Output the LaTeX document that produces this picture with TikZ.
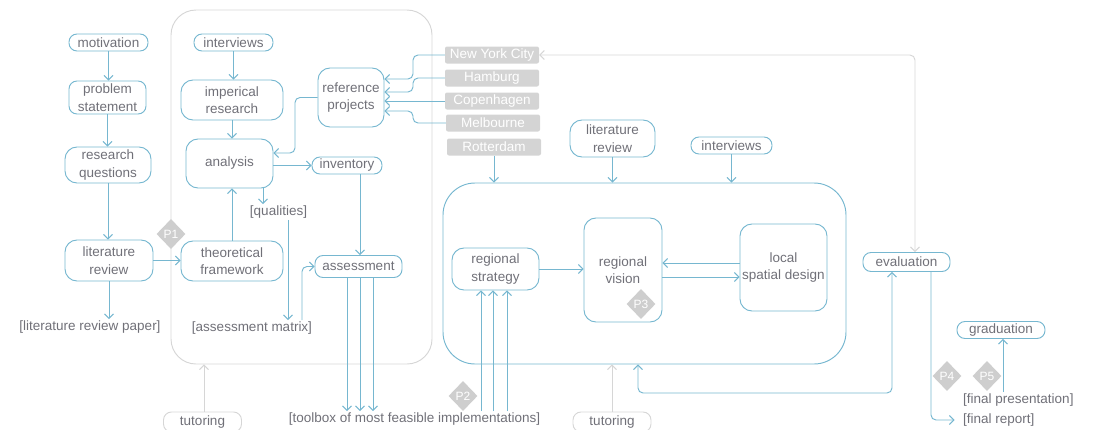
\documentclass[tikz,border=0pt]{standalone}
\usepackage{fontspec}
\setmainfont{Liberation Sans}
\usetikzlibrary{arrows.meta,shapes.geometric}
\definecolor{bl}{RGB}{118,183,208}
\definecolor{tx}{RGB}{112,112,120}
\definecolor{gl}{RGB}{214,214,214}
\definecolor{cf}{RGB}{212,212,212}
\definecolor{df}{RGB}{206,206,206}
\begin{document}
\begin{tikzpicture}[x=1pt,y=-1pt,
  font=\fontsize{13.5}{17.5}\selectfont,
  >={Straight Barb[length=4.5pt,width=9pt]},
  box/.style={draw=bl, line width=0.95pt, rounded corners=8pt, text=tx, align=center, inner sep=0pt},
  bigbox/.style={box, rounded corners=12pt},
  lbl/.style={text=tx, inner sep=1.5pt},
  city/.style={fill=cf, rounded corners=2pt, text=white, minimum width=94, minimum height=17, inner sep=0pt},
  pdia/.style={diamond, fill=df, text=white, minimum width=29, minimum height=30, inner sep=0pt, font=\fontsize{12}{12}\selectfont},
  arr/.style={->, draw=bl, line width=0.95pt},
  garr/.style={draw=gl, line width=0.95pt},
  rc/.style={rounded corners=5pt}
]
\useasboundingbox (0,0) rectangle (1093,429);
% containers
\node[draw=gl, line width=0.95pt, rounded corners=25pt, minimum width=261, minimum height=354, inner sep=0pt] (greybox) at (301.5,187) {};
\node[draw=bl, line width=0.95pt, rounded corners=32pt, minimum width=403, minimum height=181, inner sep=0pt] (bluebox) at (644.5,273.5) {};
% left column
\node[box, minimum width=79, minimum height=17] (motivation) at (108.5,42.5) {motivation};
\node[box, minimum width=77, minimum height=33] (problem) at (107.5,97.5) {problem\\statement};
\node[bigbox, minimum width=86, minimum height=36] (research) at (108,165) {research\\questions};
\node[bigbox, minimum width=88, minimum height=41] (litrev) at (109,260.5) {literature\\review};
\node[lbl] (litpaper) at (90,327) {[literature review paper]};
% grey container content
\node[box, minimum width=79, minimum height=17] (interviews1) at (233.5,42.5) {interviews};
\node[bigbox, minimum width=102, minimum height=40] (imperical) at (232,100) {imperical\\research};
\node[bigbox, minimum width=87, minimum height=49] (analysis) at (229.5,163.5) {analysis};
\node[bigbox, minimum width=102, minimum height=40] (theo) at (232,261) {theoretical\\framework};
\node[box, minimum width=70, minimum height=17] (inventory) at (347,165.5) {inventory};
\node[lbl] (qualities) at (278.5,212) {[qualities]};
\node[lbl] (assessmatrix) at (252,328) {[assessment matrix]};
\node[box, minimum width=87, minimum height=22] (assessment) at (358.5,266.5) {assessment};
\node[bigbox, minimum width=66, minimum height=59] (reference) at (351,97.5) {reference\\projects};
% cities
\node[city] (nyc) at (492,55) {New York City};
\node[city] (hamburg) at (492,78) {Hamburg};
\node[city] (copenhagen) at (492,101) {Copenhagen};
\node[city] (melbourne) at (493,123) {Melbourne};
\node[city] (rotterdam) at (494,147) {Rotterdam};
\node[lbl] (toolbox) at (414.5,419) {[toolbox of most feasible implementations]};
% blue container content
\node[bigbox, minimum width=85, minimum height=37] (litrev2) at (612.5,138.5) {literature\\review};
\node[box, minimum width=81, minimum height=17] (interviews2) at (731.5,145.5) {interviews};
\node[bigbox, minimum width=87, minimum height=42] (strategy) at (495.5,269) {regional\\strategy};
\node[bigbox, minimum width=78, minimum height=104] (vision) at (623,270) {regional\\vision};
\node[bigbox, minimum width=87, minimum height=87] (local) at (783.5,267.5) {local\\spatial design};
% right part
\node[box, minimum width=87, minimum height=19] (evaluation) at (906.5,262) {evaluation};
\node[box, minimum width=88, minimum height=17] (graduation) at (1001,330) {graduation};
\node[lbl, anchor=west] (finalpres) at (961.5,400) {[final presentation]};
\node[lbl, anchor=west] (finalreport) at (961.5,420) {[final report]};
% tutoring
\node[draw=gl, line width=0.95pt, rounded corners=8pt, text=tx, minimum width=78, minimum height=20, inner sep=0pt] (tutoring1) at (202.5,422) {tutoring};
\node[draw=gl, line width=0.95pt, rounded corners=8pt, text=tx, minimum width=78, minimum height=20, inner sep=0pt] (tutoring2) at (612,422) {tutoring};
% helper coordinates
\coordinate (xq) at (263,0);
\coordinate (xm) at (288,0);
\coordinate (xam) at (302,0);
\coordinate (xinv) at (360,0);
\coordinate (xt1) at (347,0);
\coordinate (xt2) at (360,0);
\coordinate (xt3) at (373,0);
\coordinate (xs1) at (481,0);
\coordinate (xs2) at (493,0);
\coordinate (xs3) at (507,0);
\coordinate (xref) at (295,0);
\coordinate (ya) at (0,153);
\coordinate (xcity) at (413,0);
\coordinate (yr1) at (0,79);
\coordinate (yr2) at (0,92);
\coordinate (yr4) at (0,111);
\coordinate (yl1) at (0,263);
\coordinate (yl2) at (0,277);
\coordinate (yb) at (0,393);
\coordinate (xe1) at (638,0);
\coordinate (xe2) at (892,0);
\coordinate (xg) at (915,0);
\coordinate (xf) at (931,0);
\coordinate (xgr) at (1003,0);
\coordinate (xtu) at (204,0);
% connectors left
\draw[arr] (motivation.south) -- (motivation.south |- problem.north);
\draw[arr] (problem.south) -- (problem.south |- research.north);
\draw[arr] (research.south) -- (research.south |- litrev.north);
\draw[arr] (litrev.south) -- (litrev.south |- litpaper.north);
\draw[arr] (litrev.east) -- (litrev.east -| theo.west);
\draw[arr] (interviews1.south) -- (interviews1.south |- imperical.north);
\draw[arr] (imperical.south) -- (imperical.south |- analysis.north);
\draw[arr] (theo.north) -- (theo.north |- analysis.south);
\draw[arr] (analysis.east |- inventory.west) -- (inventory.west);
\draw[arr] (analysis.south -| xq) -- (qualities.north -| xq);
\draw[arr] (qualities.south -| xm) -- (assessmatrix.north -| xm);
\draw[arr, rc] (assessmatrix.north -| xam) |- (assessment.west);
\draw[arr] (inventory.south -| xinv) -- (assessment.north -| xinv);
\foreach \c in {xt1,xt2,xt3} \draw[arr] (assessment.south -| \c) -- (toolbox.north -| \c);
\foreach \c in {xs1,xs2,xs3} \draw[arr] (toolbox.north -| \c) -- (strategy.south -| \c);
\draw[arr, rc] (reference.west) -| (xref |- ya) -- (analysis.east |- ya);
% cities
\draw[arr, rc] (nyc.west) -| (xcity |- yr1) -- (reference.east |- yr1);
\draw[arr, rc] (hamburg.west) -| (xcity |- yr2) -- (reference.east |- yr2);
\draw[arr] (copenhagen.west) -- (reference.east |- copenhagen.west);
\draw[arr, rc] (melbourne.west) -| (xcity |- yr4) -- (reference.east |- yr4);
\draw[arr] (rotterdam.south) -- (rotterdam.south |- bluebox.north);
\draw[arr] (litrev2.south) -- (litrev2.south |- bluebox.north);
\draw[arr] (interviews2.south) -- (interviews2.south |- bluebox.north);
% blue box internals
\draw[arr] (strategy.east) -- (strategy.east -| vision.west);
\draw[arr] (local.west |- yl1) -- (vision.east |- yl1);
\draw[arr] (vision.east |- yl2) -- (local.west |- yl2);
% right
\draw[arr, <->, rc] (bluebox.south -| xe1) -- (xe1 |- yb) -- (xe2 |- yb) -- (evaluation.south -| xe2);
\draw[garr, <->, rc] (nyc.east) -| (evaluation.north -| xg);
\draw[arr, rc] (evaluation.south -| xf) |- ([xshift=-7pt]finalreport.west);
\draw[arr] (finalpres.north -| xgr) -- (graduation.south -| xgr);
% tutoring
\draw[garr, ->] (tutoring1.north -| xtu) -- (greybox.south -| xtu);
\draw[garr, ->] (tutoring2.north) -- (tutoring2.north |- bluebox.south);
% milestones
\node[pdia] (p1) at (171,234) {P1};
\node[pdia] (p2) at (463,396) {P2};
\node[pdia] (p3) at (641,304) {P3};
\node[pdia] (p4) at (947,376) {P4};
\node[pdia] (p5) at (987,376) {P5};
\end{tikzpicture}
\end{document}
